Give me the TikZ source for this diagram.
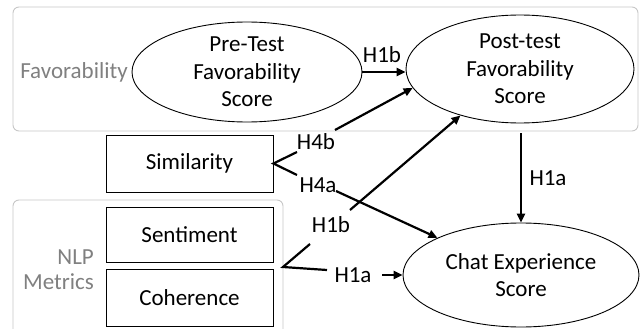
\documentclass[tikz,border=0pt]{standalone}
\usepackage{fontspec}
\setmainfont{Carlito}
\usetikzlibrary{arrows.meta,shapes.geometric}
\begin{document}
\begin{tikzpicture}[x=1pt,y=-1pt,
 groupbox/.style={draw=black!22, line width=0.9pt, rounded corners=6pt, inner sep=0},
 grouplabel/.style={text=black!50, font=\fontsize{23}{25}\selectfont, align=right, inner sep=0},
 oval/.style={ellipse, draw, line width=0.9pt, inner sep=0},
 ovaltext/.style={font=\fontsize{23}{27.5}\selectfont, align=center, inner sep=0},
 metric/.style={draw, line width=0.9pt, minimum width=167pt, inner sep=0, font=\fontsize{23}{26}\selectfont},
 hyp/.style={font=\fontsize{23}{26}\selectfont, inner sep=0},
 conn/.style={line width=2.2pt, -{Triangle[length=9pt,width=8pt]}},
 tick/.style={line width=2.2pt}
]
\useasboundingbox (0,0) rectangle (643,329);
\clip (0,0) rectangle (643,329);
% group boxes
\node[groupbox, minimum width=625pt, minimum height=124pt] (favgrp) at (325.5,69) {};
\node[groupbox, minimum width=270pt, minimum height=145pt] (nlpgrp) at (148,272.5) {};
\node[grouplabel] (favlbl) at (74,72) {Favorability};
\node[grouplabel, anchor=east] (nlplbl) at (94,269.5) {NLP\\Metrics};
% ellipses
\node[oval, minimum width=230pt, minimum height=100pt] (pre) at (247,72) {};
\node[ovaltext] (pretxt) at (pre) {Pre-Test\\Favorability\\Score};
\node[oval, minimum width=228pt, minimum height=108pt] (post) at (520,69) {};
\node[ovaltext] (posttxt) at (post) {Post-test\\Favorability\\Score};
\node[oval, minimum width=236pt, minimum height=104pt] (chat) at (521,275) {};
\node[ovaltext] (chattxt) at (chat) {Chat Experience\\Score};
% boxes
\node[metric, minimum height=57pt] (sim) at (189.5,163.5) {Similarity};
\node[metric, minimum height=55pt] (sent) at (189.5,234.5) {Sentiment};
\node[metric, minimum height=57pt] (coh) at (189.5,297.5) {Coherence};
% braces
\coordinate (simup) at (297,152);
\coordinate (simdn) at (297,175);
\draw[tick] (simup) -- (sim.east) -- (simdn);
\coordinate (nlpv) at (283,267);
\coordinate (nlpup) at (310,244);
\coordinate (nlpdn) at (327,270);
\draw[tick] (nlpup) -- (nlpv) -- (nlpdn);
% labels
\node[hyp] (h1btop) at (382,55) {H1b};
\node[hyp] (h4b) at (316,142) {H4b};
\node[hyp] (h4a) at (318,185) {H4a};
\node[hyp] (h1blow) at (331,225) {H1b};
\node[hyp] (h1alow) at (353,275) {H1a};
\node[hyp] (h1aright) at (548,178) {H1a};
% arrows
\coordinate (h4bs) at (335,130);
\coordinate (h4as) at (336,191);
\coordinate (h1bs) at (350,210);
\coordinate (h1as) at (382,275);
\coordinate (vs) at (521,133);
\draw[conn] (pre.east) -- (pre.east -| post.west);
\draw[conn] (h4bs) -- (post.190);
\draw[conn] (h1bs) -- (post.218);
\draw[conn] (h4as) -- (chat.156);
\draw[conn] (h1as) -- (chat.west);
\draw[conn] (vs) -- (chat.north);
\end{tikzpicture}
\end{document}
